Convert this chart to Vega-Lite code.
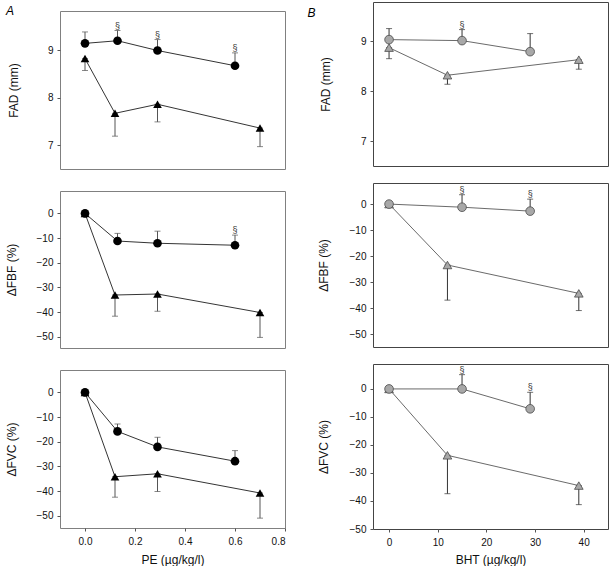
{
  "$schema": "https://vega.github.io/schema/vega-lite/v6.json",
  "padding": {"left": 4, "top": 1, "right": 0, "bottom": 0},
  "background": "white",
  "config": {
    "font": "Liberation Sans",
    "axis": {"labelFont": "Liberation Sans", "titleFont": "Liberation Sans", "labelFontSize": 10, "titleFontSize": 12, "titleFontWeight": "normal", "labelColor": "#111", "titleColor": "#111", "tickSize": 3, "tickColor": "#555", "domain": false, "grid": false, "labelPadding": 4},
    "view": {"stroke": "#808080", "strokeWidth": 1}
  },
  "datasets": {
    "pts": [
      {"p": "A1", "g": "t", "x": 0, "y": 8.82, "e": 8.57, "s": false},
      {"p": "A1", "g": "t", "x": 0.12, "y": 7.67, "e": 7.19, "s": false},
      {"p": "A1", "g": "t", "x": 0.29, "y": 7.86, "e": 7.49, "s": false},
      {"p": "A1", "g": "t", "x": 0.7, "y": 7.36, "e": 6.97, "s": false},
      {"p": "A1", "g": "c", "x": 0, "y": 9.14, "e": 9.38, "s": false},
      {"p": "A1", "g": "c", "x": 0.13, "y": 9.195, "e": 9.41, "s": true},
      {"p": "A1", "g": "c", "x": 0.29, "y": 8.99, "e": 9.22, "s": true},
      {"p": "A1", "g": "c", "x": 0.6, "y": 8.67, "e": 8.94, "s": true},
      {"p": "A2", "g": "t", "x": 0, "y": 0, "e": null, "s": false},
      {"p": "A2", "g": "t", "x": 0.12, "y": -33.1, "e": -41.7, "s": false},
      {"p": "A2", "g": "t", "x": 0.29, "y": -32.7, "e": -39.7, "s": false},
      {"p": "A2", "g": "t", "x": 0.7, "y": -40.2, "e": -50.3, "s": false},
      {"p": "A2", "g": "c", "x": 0, "y": 0, "e": null, "s": false},
      {"p": "A2", "g": "c", "x": 0.13, "y": -11.2, "e": -8.1, "s": false},
      {"p": "A2", "g": "c", "x": 0.29, "y": -12.1, "e": -7.2, "s": false},
      {"p": "A2", "g": "c", "x": 0.6, "y": -12.9, "e": -8.8, "s": true},
      {"p": "A3", "g": "t", "x": 0, "y": 0, "e": null, "s": false},
      {"p": "A3", "g": "t", "x": 0.12, "y": -34.2, "e": -42.5, "s": false},
      {"p": "A3", "g": "t", "x": 0.29, "y": -33.0, "e": -40.2, "s": false},
      {"p": "A3", "g": "t", "x": 0.7, "y": -40.8, "e": -51.0, "s": false},
      {"p": "A3", "g": "c", "x": 0, "y": 0, "e": null, "s": false},
      {"p": "A3", "g": "c", "x": 0.13, "y": -15.8, "e": -12.8, "s": false},
      {"p": "A3", "g": "c", "x": 0.29, "y": -22.1, "e": -18.2, "s": false},
      {"p": "A3", "g": "c", "x": 0.6, "y": -27.9, "e": -23.6, "s": false},
      {"p": "B1", "g": "t", "x": 0, "y": 8.87, "e": 8.65, "s": false},
      {"p": "B1", "g": "t", "x": 12, "y": 8.32, "e": 8.14, "s": false},
      {"p": "B1", "g": "t", "x": 39, "y": 8.63, "e": 8.44, "s": false},
      {"p": "B1", "g": "c", "x": 0, "y": 9.03, "e": 9.25, "s": false},
      {"p": "B1", "g": "c", "x": 15, "y": 9.01, "e": 9.23, "s": true},
      {"p": "B1", "g": "c", "x": 29, "y": 8.79, "e": 9.15, "s": false},
      {"p": "B2", "g": "t", "x": 0, "y": 0, "e": null, "s": false},
      {"p": "B2", "g": "t", "x": 12, "y": -23.4, "e": -36.9, "s": false},
      {"p": "B2", "g": "t", "x": 39, "y": -34.3, "e": -40.9, "s": false},
      {"p": "B2", "g": "c", "x": 0, "y": 0, "e": null, "s": false},
      {"p": "B2", "g": "c", "x": 15, "y": -1.2, "e": 3.6, "s": true},
      {"p": "B2", "g": "c", "x": 29, "y": -2.7, "e": 1.9, "s": true},
      {"p": "B3", "g": "t", "x": 0, "y": 0, "e": null, "s": false},
      {"p": "B3", "g": "t", "x": 12, "y": -23.7, "e": -37.4, "s": false},
      {"p": "B3", "g": "t", "x": 39, "y": -34.5, "e": -41.3, "s": false},
      {"p": "B3", "g": "c", "x": 0, "y": 0, "e": null, "s": false},
      {"p": "B3", "g": "c", "x": 15, "y": 0, "e": 5.1, "s": true},
      {"p": "B3", "g": "c", "x": 29, "y": -7.1, "e": -1.2, "s": true}
    ]
  },
  "spacing": 313,
  "bounds": "flush",
  "hconcat": [
    {
      "spacing": 8,
      "bounds": "flush",
      "vconcat": [
        {
          "width": 225, "height": 1,
          "view": {"stroke": null},
          "title": {"text": "A", "orient": "left", "anchor": "end", "angle": 0, "align": "right", "baseline": "top", "offset": 38, "dy": 4, "fontSize": 12, "fontStyle": "italic", "fontWeight": "normal", "font": "Liberation Sans", "color": "#000"},
          "data": {"values": []},
          "mark": "point",
          "encoding": {}
        },
        {
          "spacing": 22,
          "bounds": "flush",
          "vconcat": [
            {
              "width": 225, "height": 158,
              "data": {"name": "pts"},
              "transform": [{"filter": "datum.p == 'A1'"}],
              "encoding": {
                "x": {"field": "x", "type": "quantitative", "scale": {"domain": [-0.1, 0.8], "nice": false, "zero": false}, "axis": null},
                "y": {"field": "y", "type": "quantitative", "scale": {"domain": [6.5, 9.82], "nice": false, "zero": false}, "axis": {"values": [7, 8, 9], "title": "FAD (mm)", "titlePadding": 27}}
              },
              "layer": [
                {"transform": [{"filter": "isValid(datum.e)"}], "mark": {"type": "errorbar", "ticks": true, "size": 6, "thickness": 1, "color": "#555"}, "encoding": {"y2": {"field": "e"}}},
                {"mark": {"type": "line", "color": "#000", "strokeWidth": 0.8}, "encoding": {"detail": {"field": "g"}}},
                {"mark": {"type": "point", "filled": true, "color": "#000", "opacity": 1, "size": 75}, "encoding": {"shape": {"field": "g", "type": "nominal", "scale": {"domain": ["t", "c"], "range": ["triangle-up", "circle"]}, "legend": null}}},
                {"transform": [{"filter": "datum.s"}], "mark": {"type": "text", "text": "§", "baseline": "bottom", "dy": 0, "fontSize": 9, "color": "#333"}, "encoding": {"y": {"field": "e", "type": "quantitative"}}}
              ]
            },
            {
              "width": 225, "height": 157,
              "data": {"name": "pts"},
              "transform": [{"filter": "datum.p == 'A2'"}],
              "encoding": {
                "x": {"field": "x", "type": "quantitative", "scale": {"domain": [-0.1, 0.8], "nice": false, "zero": false}, "axis": null},
                "y": {"field": "y", "type": "quantitative", "scale": {"domain": [-54.6, 9.1], "nice": false, "zero": false}, "axis": {"values": [0, -10, -20, -30, -40, -50], "title": "ΔFBF (%)", "titlePadding": 18}}
              },
              "layer": [
                {"data": {"values": [{}]}, "mark": {"type": "rule", "strokeDash": [1, 2], "color": "#888", "strokeWidth": 0.8}, "encoding": {"x": {"datum": -0.1}, "x2": {"datum": 0.8}, "y": {"datum": 0}}},
                {"transform": [{"filter": "isValid(datum.e)"}], "mark": {"type": "errorbar", "ticks": true, "size": 6, "thickness": 1, "color": "#555"}, "encoding": {"y2": {"field": "e"}}},
                {"mark": {"type": "line", "color": "#000", "strokeWidth": 0.8}, "encoding": {"detail": {"field": "g"}}},
                {"mark": {"type": "point", "filled": true, "color": "#000", "opacity": 1, "size": 75}, "encoding": {"shape": {"field": "g", "type": "nominal", "scale": {"domain": ["t", "c"], "range": ["triangle-up", "circle"]}, "legend": null}}},
                {"transform": [{"filter": "datum.s"}], "mark": {"type": "text", "text": "§", "baseline": "bottom", "dy": 0, "fontSize": 9, "color": "#333"}, "encoding": {"y": {"field": "e", "type": "quantitative"}}}
              ]
            },
            {
              "width": 225, "height": 158,
              "data": {"name": "pts"},
              "transform": [{"filter": "datum.p == 'A3'"}],
              "encoding": {
                "x": {"field": "x", "type": "quantitative", "scale": {"domain": [-0.1, 0.8], "nice": false, "zero": false}, "axis": {"values": [0, 0.2, 0.4, 0.6, 0.8], "format": ".1f", "title": "PE (µg/kg/l)", "labelPadding": 5, "titlePadding": 8}},
                "y": {"field": "y", "type": "quantitative", "scale": {"domain": [-55, 9.1], "nice": false, "zero": false}, "axis": {"values": [0, -10, -20, -30, -40, -50], "title": "ΔFVC (%)", "titlePadding": 18}}
              },
              "layer": [
                {"data": {"values": [{}]}, "mark": {"type": "rule", "strokeDash": [1, 2], "color": "#888", "strokeWidth": 0.8}, "encoding": {"x": {"datum": -0.1}, "x2": {"datum": 0.8}, "y": {"datum": 0}}},
                {"transform": [{"filter": "isValid(datum.e)"}], "mark": {"type": "errorbar", "ticks": true, "size": 6, "thickness": 1, "color": "#555"}, "encoding": {"y2": {"field": "e"}}},
                {"mark": {"type": "line", "color": "#000", "strokeWidth": 0.8}, "encoding": {"detail": {"field": "g"}}},
                {"mark": {"type": "point", "filled": true, "color": "#000", "opacity": 1, "size": 75}, "encoding": {"shape": {"field": "g", "type": "nominal", "scale": {"domain": ["t", "c"], "range": ["triangle-up", "circle"]}, "legend": null}}}
              ]
            }
          ]
        }
      ]
    },
    {
      "spacing": 17,
      "bounds": "flush",
      "vconcat": [
        {
          "width": 235, "height": 164,
          "view": {"stroke": "#444"},
          "title": {"text": "B", "orient": "left", "anchor": "end", "angle": 0, "align": "right", "baseline": "top", "offset": -4, "dy": 6, "fontSize": 12, "fontStyle": "italic", "fontWeight": "normal", "font": "Liberation Sans", "color": "#000"},
          "data": {"name": "pts"},
          "transform": [{"filter": "datum.p == 'B1'"}],
          "encoding": {
            "x": {"field": "x", "type": "quantitative", "scale": {"domain": [-3.3, 45], "nice": false, "zero": false}, "axis": null},
            "y": {"field": "y", "type": "quantitative", "scale": {"domain": [6.51, 9.78], "nice": false, "zero": false}, "axis": {"values": [7, 8, 9], "title": "FAD (mm)", "titlePadding": 28}}
          },
          "layer": [
            {"transform": [{"filter": "isValid(datum.e)"}], "mark": {"type": "errorbar", "ticks": true, "size": 6, "thickness": 1, "color": "#333"}, "encoding": {"y2": {"field": "e"}}},
            {"mark": {"type": "line", "color": "#444", "strokeWidth": 0.8}, "encoding": {"detail": {"field": "g"}}},
            {"mark": {"type": "point", "filled": true, "fill": "#a8a8a8", "stroke": "#4a4a4a", "strokeWidth": 0.8, "opacity": 1, "size": 75}, "encoding": {"shape": {"field": "g", "type": "nominal", "scale": {"domain": ["t", "c"], "range": ["triangle-up", "circle"]}, "legend": null}}},
            {"transform": [{"filter": "datum.s"}], "mark": {"type": "text", "text": "§", "baseline": "bottom", "dy": 0, "fontSize": 9, "color": "#333"}, "encoding": {"y": {"field": "e", "type": "quantitative"}}}
          ]
        },
        {
          "width": 235, "height": 164,
          "view": {"stroke": "#444"},
          "data": {"name": "pts"},
          "transform": [{"filter": "datum.p == 'B2'"}],
          "encoding": {
            "x": {"field": "x", "type": "quantitative", "scale": {"domain": [-3.3, 45], "nice": false, "zero": false}, "axis": null},
            "y": {"field": "y", "type": "quantitative", "scale": {"domain": [-54.9, 8.1], "nice": false, "zero": false}, "axis": {"values": [0, -10, -20, -30, -40, -50], "title": "ΔFBF (%)", "titlePadding": 19}}
          },
          "layer": [
            {"data": {"values": [{}]}, "mark": {"type": "rule", "strokeDash": [1.5, 1.5], "color": "#000", "strokeWidth": 1.5}, "encoding": {"x": {"datum": -3.3}, "x2": {"datum": 45}, "y": {"datum": 0}}},
            {"transform": [{"filter": "isValid(datum.e)"}], "mark": {"type": "errorbar", "ticks": true, "size": 6, "thickness": 1, "color": "#333"}, "encoding": {"y2": {"field": "e"}}},
            {"mark": {"type": "line", "color": "#444", "strokeWidth": 0.8}, "encoding": {"detail": {"field": "g"}}},
            {"mark": {"type": "point", "filled": true, "fill": "#a8a8a8", "stroke": "#4a4a4a", "strokeWidth": 0.8, "opacity": 1, "size": 75}, "encoding": {"shape": {"field": "g", "type": "nominal", "scale": {"domain": ["t", "c"], "range": ["triangle-up", "circle"]}, "legend": null}}},
            {"transform": [{"filter": "datum.s"}], "mark": {"type": "text", "text": "§", "baseline": "bottom", "dy": 0, "fontSize": 9, "color": "#333"}, "encoding": {"y": {"field": "e", "type": "quantitative"}}}
          ]
        },
        {
          "width": 235, "height": 165,
          "view": {"stroke": "#444"},
          "data": {"name": "pts"},
          "transform": [{"filter": "datum.p == 'B3'"}],
          "encoding": {
            "x": {"field": "x", "type": "quantitative", "scale": {"domain": [-3.3, 45], "nice": false, "zero": false}, "axis": {"values": [0, 10, 20, 30, 40], "format": "d", "title": "BHT (µg/kg/l)", "labelPadding": 5, "titlePadding": 7}},
            "y": {"field": "y", "type": "quantitative", "scale": {"domain": [-50, 8.9], "nice": false, "zero": false}, "axis": {"values": [0, -10, -20, -30, -40, -50], "title": "ΔFVC (%)", "titlePadding": 19}}
          },
          "layer": [
            {"data": {"values": [{}]}, "mark": {"type": "rule", "strokeDash": [1.5, 1.5], "color": "#000", "strokeWidth": 1.5}, "encoding": {"x": {"datum": -3.3}, "x2": {"datum": 45}, "y": {"datum": 0}}},
            {"transform": [{"filter": "isValid(datum.e)"}], "mark": {"type": "errorbar", "ticks": true, "size": 6, "thickness": 1, "color": "#333"}, "encoding": {"y2": {"field": "e"}}},
            {"mark": {"type": "line", "color": "#444", "strokeWidth": 0.8}, "encoding": {"detail": {"field": "g"}}},
            {"mark": {"type": "point", "filled": true, "fill": "#a8a8a8", "stroke": "#4a4a4a", "strokeWidth": 0.8, "opacity": 1, "size": 75}, "encoding": {"shape": {"field": "g", "type": "nominal", "scale": {"domain": ["t", "c"], "range": ["triangle-up", "circle"]}, "legend": null}}},
            {"transform": [{"filter": "datum.s"}], "mark": {"type": "text", "text": "§", "baseline": "bottom", "dy": 0, "fontSize": 9, "color": "#333"}, "encoding": {"y": {"field": "e", "type": "quantitative"}}}
          ]
        }
      ]
    }
  ]
}
